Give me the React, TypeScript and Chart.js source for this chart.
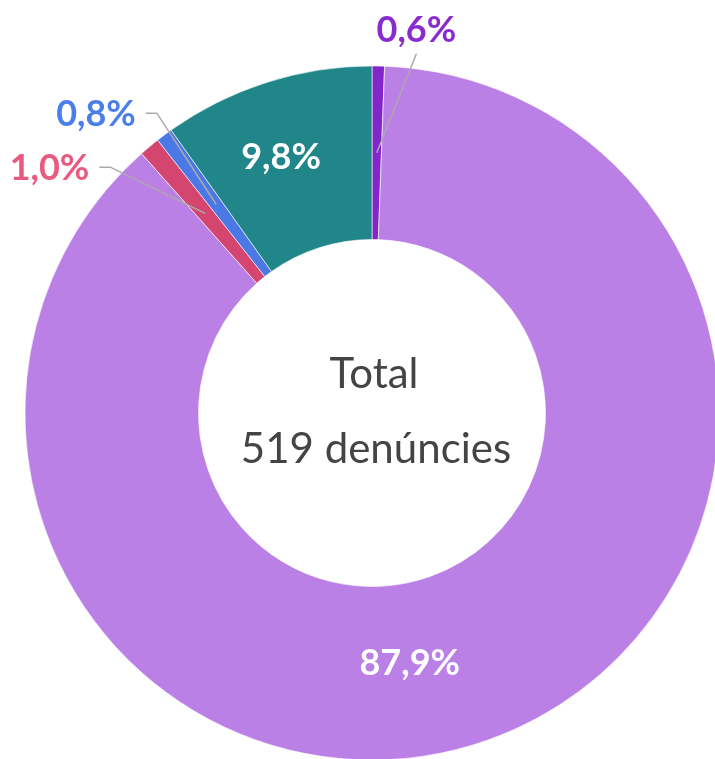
import React, { useEffect, useRef } from 'react';
import { Chart, registerables } from 'chart.js';

Chart.register(...registerables);

// ---- data ----
const categories = ['Categoria 1', 'Categoria 2', 'Categoria 3', 'Categoria 4', 'Categoria 5'];
const counts = [3, 456, 5, 4, 51];
const centerLines = ['Total', '519 denúncies'];

// ---- styling / label layout ----
const sliceColors = ['#8326c9', '#ba80e6', '#d4456f', '#4a79e6', '#208689'];
const labelColors = ['#8a2bd0', '#ffffff', '#e85a80', '#4a7ee8', '#ffffff'];
const labelPlacement = ['outside', 'inside', 'outside', 'outside', 'inside'];
const labelAngleShift = [6, 11.2, -6.9, 1.1, -1.9];
const labelRadialShift = [15, -7, 12, 22, 11];

const FONT = 'Lato, "Noto Sans", sans-serif';

const sliceLabelsPlugin = {
  id: 'sliceLabels',
  afterDatasetsDraw(chart: any) {
    const ctx = chart.ctx as CanvasRenderingContext2D;
    const meta = chart.getDatasetMeta(0);
    const total = counts.reduce((a, b) => a + b, 0);
    meta.data.forEach((arc: any, i: number) => {
      const p = arc.getProps(['x', 'y', 'startAngle', 'endAngle', 'innerRadius', 'outerRadius'], true);
      const mid = (p.startAngle + p.endAngle) / 2;
      const midR = (p.innerRadius + p.outerRadius) / 2;
      const text = ((counts[i] / total) * 100).toFixed(1).replace('.', ',') + '%';
      ctx.save();
      ctx.font = `bold 36px ${FONT}`;
      ctx.fillStyle = labelColors[i];
      const a = mid + (labelAngleShift[i] * Math.PI) / 180;
      if (labelPlacement[i] === 'inside') {
        const r = midR + labelRadialShift[i];
        ctx.textAlign = 'center';
        ctx.textBaseline = 'middle';
        ctx.fillText(text, p.x + Math.cos(a) * r, p.y + Math.sin(a) * r);
      } else {
        const sx = p.x + Math.cos(mid) * midR;
        const sy = p.y + Math.sin(mid) * midR;
        const er = p.outerRadius + labelRadialShift[i];
        const ex = p.x + Math.cos(a) * er;
        const ey = p.y + Math.sin(a) * er;
        ctx.strokeStyle = '#aaaaaa';
        ctx.lineWidth = 1.5;
        ctx.beginPath();
        ctx.moveTo(sx, sy);
        ctx.lineTo(ex, ey);
        if (Math.abs(Math.cos(a)) < 0.3) {
          ctx.stroke();
          ctx.textAlign = 'center';
          ctx.textBaseline = Math.sin(a) < 0 ? 'alphabetic' : 'top';
          ctx.fillText(text, ex, Math.sin(a) < 0 ? ey - 12 : ey + 12);
        } else {
          const dir = Math.cos(a) < 0 ? -1 : 1;
          ctx.lineTo(ex + dir * 11, ey);
          ctx.stroke();
          ctx.textAlign = dir < 0 ? 'right' : 'left';
          ctx.textBaseline = 'middle';
          ctx.fillText(text, ex + dir * 21, ey + 1);
        }
      }
      ctx.restore();
    });
  },
  afterDraw(chart: any) {
    const ctx = chart.ctx as CanvasRenderingContext2D;
    const arc = chart.getDatasetMeta(0).data[0];
    if (!arc) return;
    const { x, y } = arc.getProps(['x', 'y'], true);
    ctx.save();
    ctx.font = `42px ${FONT}`;
    ctx.fillStyle = '#444444';
    ctx.textAlign = 'center';
    ctx.textBaseline = 'alphabetic';
    ctx.fillText(centerLines[0], x + 2, y - 25);
    ctx.fillText(centerLines[1], x + 4, y + 50);
    ctx.restore();
  },
};

export default function App() {
  const canvasRef = useRef<HTMLCanvasElement | null>(null);

  useEffect(() => {
    if (!canvasRef.current) return;
    const chart = new Chart(canvasRef.current, {
      type: 'doughnut',
      data: {
        labels: categories,
        datasets: [
          {
            data: counts,
            backgroundColor: sliceColors,
            borderColor: '#ffffff',
            borderWidth: 0.6,
            radius: 347,
            clip: false,
          } as any,
        ],
      },
      options: {
        responsive: false,
        animation: false,
        cutout: '50%',
        layout: { padding: { left: 29, top: 67, right: 0, bottom: 0 } },
        plugins: {
          legend: { display: false },
          tooltip: { enabled: false },
        },
      } as any,
      plugins: [sliceLabelsPlugin],
    });
    return () => chart.destroy();
  }, []);

  return (
    <div style={{ position: 'absolute', left: 0, top: 0, width: 715, height: 759, overflow: 'hidden', background: '#ffffff' }}>
      <canvas ref={canvasRef} width={715} height={759} style={{ display: 'block' }} />
    </div>
  );
}
